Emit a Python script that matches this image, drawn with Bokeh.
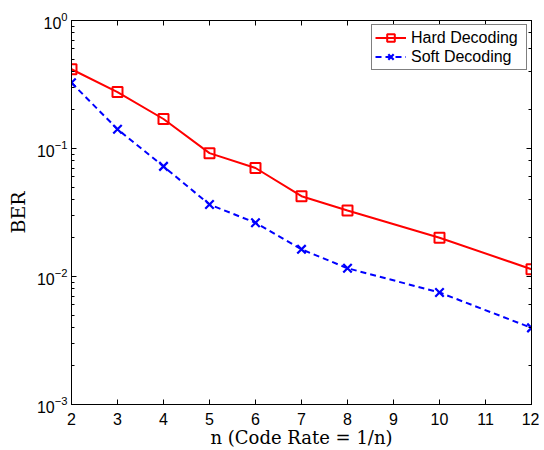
from bokeh.plotting import figure
from bokeh.models import Range1d, LinearAxis, LogAxis, FixedTicker, LogTicker, Legend, LegendItem
from bokeh.embed import file_html
from bokeh.resources import INLINE

n_vals = [2, 3, 4, 5, 6, 7, 8, 10, 12]
hard_ber = [0.416, 0.276, 0.170, 0.092, 0.0704, 0.0424, 0.0328, 0.0201, 0.0114]
soft_ber = [0.326, 0.1415, 0.0725, 0.0365, 0.0263, 0.0163, 0.0116, 0.0075, 0.00397]
x_ticks = [2, 3, 4, 5, 6, 7, 8, 9, 10, 11, 12]

p = figure(width=539, height=450, output_backend="svg", toolbar_location=None,
           y_axis_type="log", x_range=Range1d(2, 12), y_range=Range1d(1e-3, 1),
           min_border_left=71, min_border_right=8, min_border_top=20, min_border_bottom=44)
p.xgrid.visible = False
p.ygrid.visible = False
p.outline_line_color = "black"
p.outline_line_width = 1
p.background_fill_color = "white"
p.border_fill_color = "white"

tick_font = "Liberation Sans"
label_font = "DejaVu Serif"
for ax in [p.xaxis[0], p.yaxis[0]]:
    ax.major_tick_in = 5
    ax.major_tick_out = 0
    ax.minor_tick_in = 3
    ax.minor_tick_out = 0
    ax.axis_line_color = "black"
    ax.major_tick_line_color = "black"
    ax.minor_tick_line_color = "black"
    ax.major_label_text_font = tick_font
    ax.major_label_text_font_size = "16px"
    ax.major_label_text_color = "black"
    ax.axis_label_text_font = label_font
    ax.axis_label_text_font_style = "normal"
    ax.axis_label_text_font_size = "18px"
    ax.axis_label_text_color = "black"

p.xaxis[0].ticker = FixedTicker(ticks=x_ticks)
p.xaxis[0].minor_tick_line_color = None
p.xaxis[0].major_label_standoff = 8
p.xaxis[0].axis_label = "n (Code Rate = 1/n)"
p.xaxis[0].axis_label_standoff = -1
p.yaxis[0].axis_label = "BER"
p.yaxis[0].axis_label_text_font_size = "19px"
p.yaxis[0].axis_label_standoff = 5
p.yaxis[0].major_label_standoff = 4

top = LinearAxis(ticker=FixedTicker(ticks=x_ticks), major_tick_in=5, major_tick_out=0,
                 minor_tick_line_color=None, major_label_text_font_size="1px",
                 major_label_text_color=None,
                 major_label_standoff=0, axis_line_color="black")
p.add_layout(top, "above")
right = LogAxis(ticker=LogTicker(), major_tick_in=5, major_tick_out=0, minor_tick_in=3,
                minor_tick_out=0, major_label_text_font_size="1px",
                major_label_text_color=None, major_label_standoff=0,
                axis_line_color="black")
p.add_layout(right, "right")

hl = p.line(n_vals, hard_ber, line_color="red", line_width=2)
hm = p.scatter(n_vals, hard_ber, marker="square", size=10, fill_color=None,
               line_color="red", line_width=2)
sl = p.line(n_vals, soft_ber, line_color="blue", line_width=2, line_dash="6 4")
sm = p.scatter(n_vals, soft_ber, marker="x", size=12, line_color="blue", line_width=2.2)

legend = Legend(items=[LegendItem(label="Hard Decoding", renderers=[hl, hm]),
                       LegendItem(label="Soft Decoding", renderers=[sl, sm])],
                location="top_right")
legend.label_text_font = tick_font
legend.label_text_font_size = "16px"
legend.label_text_color = "black"
legend.border_line_color = "black"
legend.border_line_width = 1
legend.margin = 4
legend.padding = 3
legend.spacing = 0
legend.glyph_width = 31
legend.glyph_height = 19
legend.label_height = 19
legend.label_width = 112
legend.label_standoff = 5
legend.background_fill_alpha = 1
p.add_layout(legend)

open("out.html", "w").write(file_html(p, INLINE))
